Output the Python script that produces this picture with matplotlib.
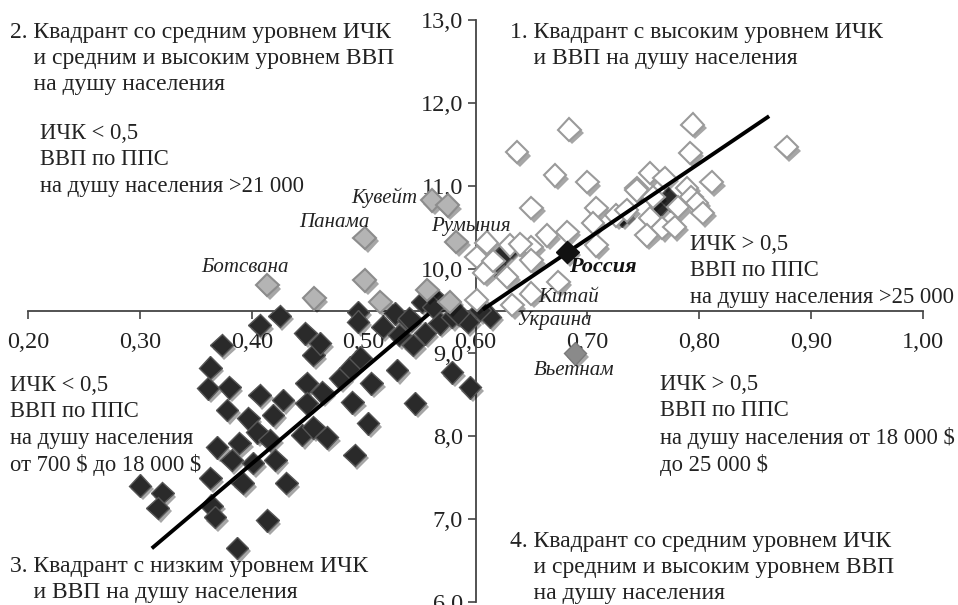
import matplotlib
matplotlib.use("Agg")
import matplotlib.pyplot as plt
import matplotlib.patheffects as pe

plt.rcParams["font.family"] = ["Liberation Serif", "DejaVu Serif"]

# low HDI / GDP countries (dark markers)
dark_x = [0.300, 0.320, 0.316, 0.361, 0.363, 0.363, 0.364, 0.367, 0.369, 0.373,
          0.378, 0.380, 0.382, 0.387, 0.389, 0.392, 0.397, 0.401, 0.405, 0.407,
          0.407, 0.414, 0.416, 0.421, 0.419, 0.425, 0.428, 0.431, 0.445, 0.448,
          0.449, 0.449, 0.455, 0.455, 0.461, 0.463, 0.467, 0.479, 0.488, 0.490,
          0.492, 0.497, 0.504, 0.507, 0.517, 0.530, 0.532, 0.544, 0.546, 0.555,
          0.568, 0.579, 0.595, 0.495, 0.495, 0.528, 0.540, 0.552, 0.566, 0.593,
          0.613, 0.541, 0.562, 0.579, 0.584, 0.604, 0.615, 0.626, 0.731, 0.765,
          0.772]
dark_y = [7.40, 7.31, 7.13, 8.57, 8.82, 7.49, 7.16, 7.02, 7.86, 9.09,
          8.31, 8.58, 7.71, 6.65, 7.91, 7.43, 8.21, 7.67, 8.04, 9.33,
          8.49, 6.98, 7.95, 7.71, 8.25, 9.44, 8.43, 7.43, 8.01, 9.23,
          8.63, 8.39, 8.97, 8.10, 9.11, 8.52, 7.98, 8.69, 8.82, 8.40,
          7.77, 8.94, 8.15, 8.63, 9.31, 8.79, 9.21, 9.09, 8.39, 9.23,
          9.35, 8.76, 8.58, 9.49, 9.37, 9.47, 9.39, 9.61, 9.63, 9.37,
          9.43, 9.41, 9.55, 9.43, 9.47, 9.51, 10.08, 10.20, 10.65, 10.77,
          10.86]

# medium HDI, high GDP (light grey markers)
grey_x = [0.414, 0.456, 0.501, 0.501, 0.515, 0.561, 0.575, 0.583, 0.557, 0.577]
grey_y = [9.81, 9.65, 10.38, 9.87, 9.61, 10.83, 10.77, 10.33, 9.75, 9.61]

# high HDI / GDP (white markers)
white_x = [0.684, 0.637, 0.671, 0.700, 0.650, 0.708, 0.744, 0.726, 0.705, 0.682,
           0.664, 0.650, 0.708, 0.631, 0.610, 0.601, 0.650, 0.608, 0.628, 0.674,
           0.650, 0.633, 0.601, 0.794, 0.878, 0.792, 0.756, 0.811, 0.769, 0.789,
           0.744, 0.759, 0.793, 0.798, 0.781, 0.803, 0.756, 0.767, 0.753, 0.778,
           0.735, 0.616, 0.640]
white_y = [11.68, 11.41, 11.13, 11.05, 10.74, 10.74, 10.98, 10.65, 10.56, 10.45,
           10.41, 10.27, 10.29, 10.29, 10.32, 10.15, 10.11, 9.96, 9.91, 9.85,
           9.71, 9.57, 9.63, 11.74, 11.47, 11.40, 11.16, 11.05, 11.10, 10.98,
           10.95, 10.87, 10.87, 10.80, 10.75, 10.68, 10.62, 10.50, 10.41, 10.51,
           10.71, 10.10, 10.30]

russia = (0.682, 10.21)
vietnam = (0.689, 8.99)

# trend lines (endpoints)
trend_low_x = [0.312, 0.557]
trend_low_y = [6.66, 9.45]
trend_high_x = [0.608, 0.861]
trend_high_y = [9.53, 11.83]

x_ticks = [0.2, 0.3, 0.4, 0.5, 0.6, 0.7, 0.8, 0.9, 1.0]
y_ticks = [6, 7, 8, 9, 10, 11, 12, 13]

fig = plt.figure(figsize=(9.58, 6.05), dpi=100)
ax = fig.add_axes([0.0292, 0.005, 0.9343, 0.962])
ax.set_xlim(0.2, 1.0)
ax.set_ylim(6, 13)

for s in ["top", "right"]:
    ax.spines[s].set_visible(False)
ax.spines["left"].set_position(("data", 0.6))
ax.spines["bottom"].set_position(("data", 9.5))
for s in ["left", "bottom"]:
    ax.spines[s].set_color("#444444")
    ax.spines[s].set_linewidth(1.3)

ax.set_xticks(x_ticks)
ax.set_xticklabels([f"{v:.2f}".replace(".", ",") for v in x_ticks])
ax.set_yticks(y_ticks)
ax.set_yticklabels([f"{v:.1f}".replace(".", ",") for v in y_ticks])
ax.tick_params(axis="both", direction="out", length=6, width=1.2, color="#444444",
               labelsize=17.5, labelcolor="#222222")
ax.tick_params(axis="x", pad=9)
ax.tick_params(axis="y", pad=3)

shadow = [pe.SimplePatchShadow(offset=(2, -2.5), shadow_rgbFace="#000000", alpha=0.35),
          pe.Normal()]
ms = 11.5

ax.plot(dark_x, dark_y, "D", ms=ms, mfc="#2a2a2a", mec="#555555", mew=1,
        path_effects=shadow, zorder=3)
ax.plot(grey_x, grey_y, "D", ms=ms, mfc="#b4b4b4", mec="#8c8c8c", mew=1.5,
        path_effects=shadow, zorder=4)
ax.plot(white_x, white_y, "D", ms=ms, mfc="white", mec="#9a9a9a", mew=1.5,
        path_effects=shadow, zorder=4)
ax.plot([vietnam[0]], [vietnam[1]], "D", ms=ms, mfc="#8a8a8a", mec="#7a7a7a", mew=1,
        path_effects=shadow, zorder=4)

ax.plot(trend_low_x, trend_low_y, color="black", lw=2.8, zorder=5)
ax.plot(trend_high_x, trend_high_y, color="black", lw=2.8, zorder=5)
ax.plot([russia[0]], [russia[1]], "D", ms=ms, mfc="#111111", mec="#111111",
        path_effects=shadow, zorder=6)

# country labels
lab = dict(fontsize=15, style="italic", color="#222222", zorder=7)
ax.text(0.548, 10.86, "Кувейт", ha="right", va="center", **lab)
ax.text(0.474, 10.56, "Панама", ha="center", va="center", **lab)
ax.text(0.394, 10.02, "Ботсвана", ha="center", va="center", **lab)
ax.text(0.560, 10.52, "Румыния", ha="left", va="center", **lab)
ax.text(0.684, 10.03, "Россия", ha="left", va="center", fontsize=16,
        style="italic", weight="bold", color="#111111", zorder=7)
ax.text(0.656, 9.66, "Китай", ha="left", va="center", **lab)
ax.text(0.636, 9.39, "Украина", ha="left", va="center", **lab)
ax.text(0.652, 8.79, "Вьетнам", ha="left", va="center", **lab)

# quadrant captions
big = dict(fontsize=17, color="#222222", va="top", ha="left", linespacing=1.32,
           transform=fig.transFigure)
mid = dict(fontsize=16.3, color="#222222", va="top", ha="left", linespacing=1.33,
           transform=fig.transFigure)
fig.text(10 / 958, 1 - 22 / 605,
         "2. Квадрант со средним уровнем ИЧК\n    и средним и высоким уровнем ВВП\n    на душу населения",
         **big)
fig.text(40 / 958, 1 - 123 / 605, "ИЧК < 0,5\nВВП по ППС\nна душу населения >21 000", **mid)
fig.text(510 / 958, 1 - 22 / 605,
         "1. Квадрант с высоким уровнем ИЧК\n    и ВВП на душу населения", **big)
fig.text(690 / 958, 1 - 234 / 605, "ИЧК > 0,5\nВВП по ППС\nна душу населения >25 000", **mid)
fig.text(10 / 958, 1 - 375 / 605,
         "ИЧК < 0,5\nВВП по ППС\nна душу населения\nот 700 \\$ до 18 000 \\$", **mid)
fig.text(660 / 958, 1 - 374 / 605,
         "ИЧК > 0,5\nВВП по ППС\nна душу населения от 18 000 \\$\nдо 25 000 \\$", **mid)
fig.text(10 / 958, 1 - 556 / 605,
         "3. Квадрант с низким уровнем ИЧК\n    и ВВП на душу населения", **big)
fig.text(510 / 958, 1 - 531 / 605,
         "4. Квадрант со средним уровнем ИЧК\n    и средним и высоким уровнем ВВП\n    на душу населения",
         **big)

fig.savefig("out.png", dpi=100)
